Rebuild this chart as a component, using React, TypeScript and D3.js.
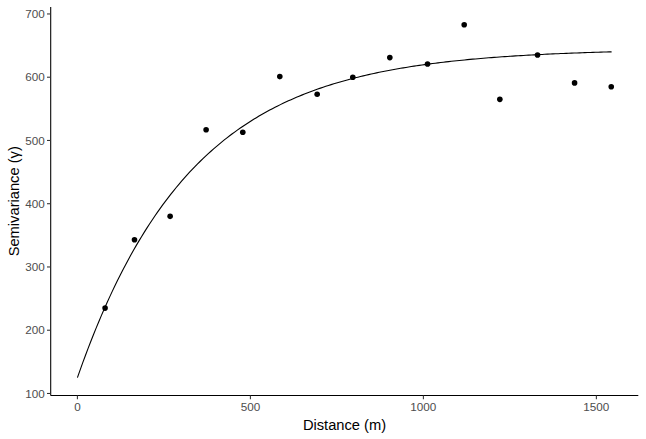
import React from "react";
import * as d3 from "d3";

const distances = [80, 165, 268, 372, 478, 585, 693, 796, 903, 1012, 1118, 1221, 1330, 1437, 1543];
const semivariances = [235, 343, 380, 517, 513, 601, 573, 600, 631, 621, 683, 565, 635, 591, 585];

// fitted exponential variogram model parameters
const modelNugget = 125;
const modelPartialSill = 520;
const modelRange = 331;
const modelMaxDistance = 1544;

const xTicks = [0, 500, 1000, 1500];
const yTicks = [100, 200, 300, 400, 500, 600, 700];

const W = 646;
const H = 439;
const left = 50.7;
const right = 638.3;
const top = 7;
const bottom = 395.5;

export default function App() {
  const x = d3.scaleLinear().domain([-77.2, 1621.2]).range([left, right]);
  const y = d3.scaleLinear().domain([96.8, 711]).range([bottom, top]);

  const steps = 200;
  const curveX = d3.range(steps + 1).map((i) => (i / steps) * modelMaxDistance);
  const model = (h: number) => modelNugget + modelPartialSill * (1 - Math.exp(-h / modelRange));
  const line = d3
    .line<number>()
    .x((h) => x(h))
    .y((h) => y(model(h)));

  const font = "'Liberation Sans', Arial, sans-serif";

  return (
    <svg
      width={W}
      height={H}
      style={{ position: "absolute", left: 0, top: 0, background: "#fff" }}
      fontFamily={font}
    >
      <rect x={0} y={0} width={W} height={H} fill="#fff" />
      <path d={line(curveX) || ""} fill="none" stroke="#000" strokeWidth={1.1} />
      {distances.map((d, i) => (
        <circle key={i} cx={x(d)} cy={y(semivariances[i])} r={2.8} fill="#000" />
      ))}
      {/* axes */}
      <line x1={left} x2={left} y1={top} y2={bottom} stroke="#000" strokeWidth={1.07} />
      <line x1={left} x2={right} y1={bottom} y2={bottom} stroke="#000" strokeWidth={1.07} />
      {yTicks.map((t) => (
        <g key={"y" + t}>
          <line x1={left - 3.7} x2={left} y1={y(t)} y2={y(t)} stroke="#333" strokeWidth={1.07} />
          <text
            x={left - 6}
            y={y(t)}
            dy="0.35em"
            textAnchor="end"
            fontSize={11.7}
            fill="#4D4D4D"
          >
            {t}
          </text>
        </g>
      ))}
      {xTicks.map((t) => (
        <g key={"x" + t}>
          <line x1={x(t)} x2={x(t)} y1={bottom} y2={bottom + 3.7} stroke="#333" strokeWidth={1.07} />
          <text x={x(t)} y={bottom + 15.5} textAnchor="middle" fontSize={11.7} fill="#4D4D4D">
            {t}
          </text>
        </g>
      ))}
      <text x={(left + right) / 2} y={430} textAnchor="middle" fontSize={14.7} fill="#000">
        Distance (m)
      </text>
      <text
        transform={`translate(19, ${(top + bottom) / 2}) rotate(-90)`}
        textAnchor="middle"
        fontSize={14.7}
        fill="#000"
      >
        Semivariance (γ)
      </text>
    </svg>
  );
}
